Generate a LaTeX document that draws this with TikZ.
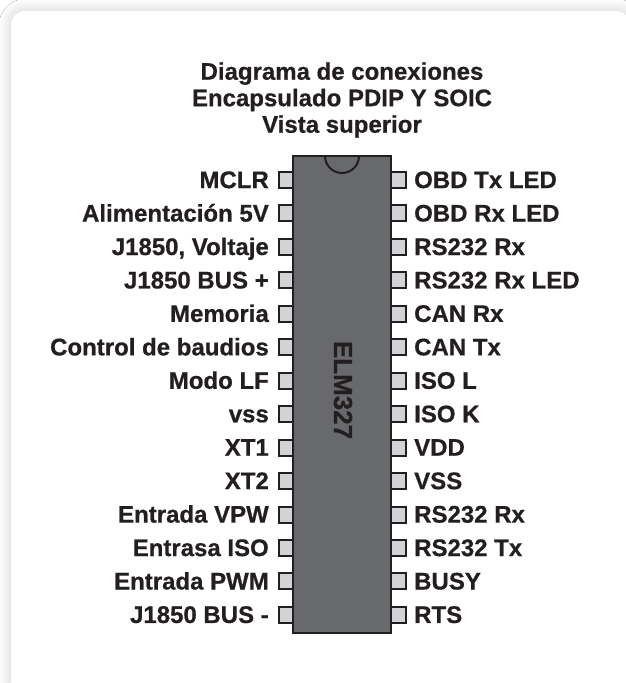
\documentclass[tikz,border=0pt]{standalone}
\usepackage{fontspec}
\setmainfont[BoldFeatures={FakeBold=0.6}]{Liberation Sans}
\usetikzlibrary{shadows.blur}
\definecolor{chip}{RGB}{104,105,108}
\definecolor{pinc}{RGB}{209,211,212}
\definecolor{ink}{RGB}{35,31,32}
\tikzset{x=1pt,y=-1pt,
  pinbox/.style={draw=ink,line width=2pt,fill=pinc,minimum width=14.5pt,minimum height=16pt,inner sep=0pt},
  lbl/.style={font=\bfseries\fontsize{24}{24}\selectfont,text=ink,inner sep=0pt},
  ttl/.style={font=\bfseries\fontsize{24}{26.5}\selectfont,text=ink,align=center,inner sep=0pt}}
\begin{document}
\begin{tikzpicture}
\useasboundingbox (0,0) rectangle (626,683);
\fill[white] (0,0) rectangle (626,683);
\begin{scope}
\clip (0,0) rectangle (626,683);
\fill[rounded corners=14pt,white,blur shadow={shadow blur steps=14,shadow xshift=0pt,shadow yshift=0pt,shadow blur radius=12pt,shadow opacity=20}] (11,11) rectangle (630,696);
\end{scope}
\node[ttl] (title) at (342,100) {Diagrama de conexiones\\Encapsulado PDIP Y SOIC\\Vista superior};
\foreach \i/\lt/\rt in {0/MCLR/OBD Tx LED,1/Alimentación 5V/OBD Rx LED,2/{J1850, Voltaje}/RS232 Rx,3/J1850 BUS +/RS232 Rx LED,4/Memoria/CAN Rx,5/Control de baudios/CAN Tx,6/Modo LF/ISO L,7/vss/ISO K,8/XT1/VDD,9/XT2/VSS,10/Entrada VPW/RS232 Rx,11/Entrasa ISO/RS232 Tx,12/Entrada PWM/BUSY,13/J1850 BUS -/RTS}{
  \pgfmathsetmacro{\yy}{180+33.45*\i}
  \pgfmathsetmacro{\bb}{\yy+8.1}
  \node[pinbox] (pl\i) at (286,\yy) {};
  \node[pinbox] (pr\i) at (398.5,\yy) {};
  \node[lbl,anchor=base east] (tl\i) at (269,\bb) {\lt};
  \node[lbl,anchor=base west] (tr\i) at (414,\bb) {\rt};
}
\node[draw=ink,line width=2pt,fill=chip,minimum width=98pt,minimum height=477pt,inner sep=0pt] (chipbody) at (342,394.5) {};
\draw[ink,line width=2pt] (325,156) arc[start angle=180,end angle=0,radius=17];
\node[font=\bfseries\fontsize{26}{26}\selectfont,text=ink,rotate=-90,inner sep=0pt] (name) at (343,390) {ELM327};
\end{tikzpicture}
\end{document}
